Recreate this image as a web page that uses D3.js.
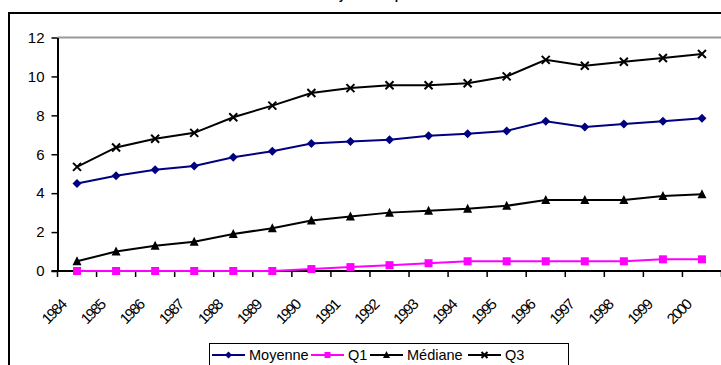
<!DOCTYPE html>
<html>
<head>
<meta charset="utf-8">
<script src="https://cdn.jsdelivr.net/npm/d3@7"></script>
<style>
  body { margin: 0; background: #fff; overflow: hidden; }
  svg { display: block; font-family: Arial, "Liberation Sans", sans-serif; }
</style>
</head>
<body>
<div id="chart"></div>
<script>
// data
const years   = ["1984","1985","1986","1987","1988","1989","1990","1991","1992","1993","1994","1995","1996","1997","1998","1999","2000"];
const moyenne = [4.5, 4.9, 5.2, 5.4, 5.85, 6.15, 6.55, 6.65, 6.75, 6.95, 7.05, 7.2, 7.7, 7.4, 7.55, 7.7, 7.85];
const q1      = [0, 0, 0, 0, 0, 0, 0.1, 0.2, 0.3, 0.4, 0.5, 0.5, 0.5, 0.5, 0.5, 0.6, 0.6];
const mediane = [0.5, 1.0, 1.3, 1.5, 1.9, 2.2, 2.6, 2.8, 3.0, 3.1, 3.2, 3.35, 3.65, 3.65, 3.65, 3.85, 3.95];
const q3      = [5.35, 6.35, 6.8, 7.1, 7.9, 8.5, 9.15, 9.4, 9.55, 9.55, 9.65, 10.0, 10.85, 10.55, 10.75, 10.95, 11.15];
const yTicks  = [0, 2, 4, 6, 8, 10, 12];

const series = [
  { name: "Moyenne", values: moyenne, color: "#000080", marker: "diamond" },
  { name: "Q1",      values: q1,      color: "#FF00FF", marker: "square" },
  { name: "Médiane", values: mediane, color: "#000000", marker: "triangle" },
  { name: "Q3",      values: q3,      color: "#000000", marker: "cross" }
];

const width = 721, height = 365;
const plot = { left: 57.5, right: 721.5, top: 37.5, bottom: 271 };

const svg = d3.select("#chart").append("svg")
  .attr("width", width)
  .attr("height", height);

// outer chart frame (partly off-screen)
svg.append("rect")
  .attr("x", 9).attr("y", 13)
  .attr("width", 760).attr("height", 400)
  .attr("fill", "#fff")
  .attr("stroke", "#000")
  .attr("stroke-width", 2);

// title, cut off at the top as in the original
svg.append("text")
  .attr("x", 381).attr("y", -1)
  .attr("text-anchor", "middle")
  .attr("font-size", "12px")
  .attr("font-weight", "bold")
  .attr("fill", "#000")
  .text("Moyenne et quartiles");

const x = d3.scaleBand()
  .domain(years)
  .range([plot.left, plot.right]);

const y = d3.scaleLinear()
  .domain([0, 12])
  .range([plot.bottom, plot.top]);

// plot area border (top, gray)
svg.append("line")
  .attr("x1", plot.left).attr("x2", plot.right)
  .attr("y1", y(12)).attr("y2", y(12))
  .attr("stroke", "#999")
  .attr("stroke-width", 2);

// y axis
const yAxis = svg.append("g")
  .attr("transform", `translate(${plot.left},0)`)
  .call(d3.axisLeft(y).tickValues(yTicks).tickSize(6).tickPadding(7).tickSizeOuter(0));
yAxis.select(".domain").attr("stroke", "#000").attr("stroke-width", 2);
yAxis.selectAll("line").attr("stroke", "#000").attr("stroke-width", 1.5);
yAxis.selectAll("text")
  .style("font-size", "15px")
  .style("font-family", "Arial, 'Liberation Sans', sans-serif")
  .attr("fill", "#000");

// x axis: ticks on category boundaries
const boundaries = d3.range(years.length + 1).map(i => plot.left + i * x.bandwidth());
const xAxis = svg.append("g");
xAxis.append("line")
  .attr("x1", plot.left - 6).attr("x2", plot.right)
  .attr("y1", plot.bottom).attr("y2", plot.bottom)
  .attr("stroke", "#000")
  .attr("stroke-width", 2);
xAxis.selectAll("line.tick")
  .data(boundaries)
  .join("line")
  .attr("class", "tick")
  .attr("x1", d => d).attr("x2", d => d)
  .attr("y1", plot.bottom).attr("y2", plot.bottom + 6)
  .attr("stroke", "#000")
  .attr("stroke-width", 1.5);

xAxis.selectAll("text")
  .data(years)
  .join("text")
  .attr("text-anchor", "end")
  .style("font-size", "15px")
  .attr("letter-spacing", "-1.6px")
  .attr("fill", "#000")
  .attr("transform", d => `translate(${x(d) + x.bandwidth() / 2 - 10},${plot.bottom + 35}) rotate(-45)`)
  .text(d => d);

// lines & markers
const line = d3.line()
  .x((d, i) => x(years[i]) + x.bandwidth() / 2)
  .y(d => y(d));

function drawMarker(g, type, color, size) {
  if (type === "diamond") {
    const h = size / 2 + 0.5;
    g.append("path")
      .attr("d", `M0,${-h}L${h},0L0,${h}L${-h},0Z`)
      .attr("fill", color);
  } else if (type === "square") {
    g.append("rect")
      .attr("x", -size / 2).attr("y", -size / 2)
      .attr("width", size).attr("height", size)
      .attr("fill", color);
  } else if (type === "triangle") {
    g.append("path")
      .attr("d", `M0,${-size / 2 - 1}L${size / 2 + 0.5},${size / 2}L${-size / 2 - 0.5},${size / 2}Z`)
      .attr("fill", color);
  } else if (type === "cross") {
    const h = size / 2;
    g.append("path")
      .attr("d", `M${-h},${-h}L${h},${h}M${h},${-h}L${-h},${h}`)
      .attr("stroke", color)
      .attr("stroke-width", 2)
      .attr("fill", "none");
  }
}

series.forEach(s => {
  svg.append("path")
    .datum(s.values)
    .attr("d", line)
    .attr("fill", "none")
    .attr("stroke", s.color)
    .attr("stroke-width", 2);

  svg.selectAll(null)
    .data(s.values)
    .join("g")
    .attr("transform", (d, i) => `translate(${x(years[i]) + x.bandwidth() / 2},${y(d)})`)
    .each(function() { drawMarker(d3.select(this), s.marker, s.color, 8); });
});

// legend
const legend = svg.append("g");
legend.append("rect")
  .attr("x", 209.5).attr("y", 343.5)
  .attr("width", 359).attr("height", 30)
  .attr("fill", "#fff")
  .attr("stroke", "#000")
  .attr("stroke-width", 1);

const legendX = [212, 311, 370, 468];
series.forEach((s, i) => {
  const g = legend.append("g").attr("transform", `translate(${legendX[i]},355)`);
  g.append("line")
    .attr("x1", 0).attr("x2", 33)
    .attr("y1", 0).attr("y2", 0)
    .attr("stroke", s.color)
    .attr("stroke-width", 2);
  const m = g.append("g").attr("transform", "translate(16.5,0)");
  drawMarker(m, s.marker, s.color, 6);
  g.append("text")
    .attr("x", 37).attr("y", 0)
    .attr("dy", "0.36em")
    .style("font-size", "14.5px")
    .attr("fill", "#000")
    .text(s.name);
});
</script>
</body>
</html>
